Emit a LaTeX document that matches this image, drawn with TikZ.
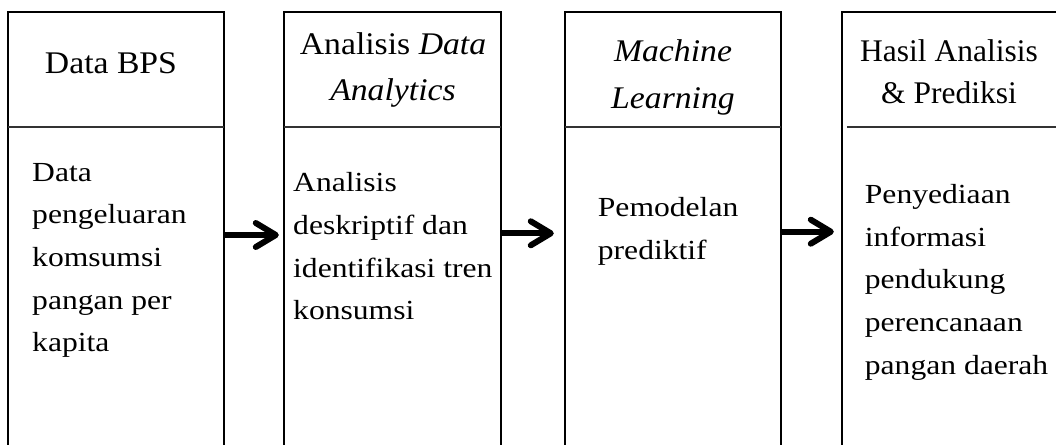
\documentclass[tikz,border=0pt]{standalone}
\usepackage{fontspec}
\setmainfont{Liberation Serif}
\newfontfamily\bodyfont[FakeStretch=1.145]{Liberation Serif}
\newfontfamily\headfont[FakeStretch=1.07]{Liberation Serif}
\usetikzlibrary{arrows.meta}
\begin{document}
\begin{tikzpicture}[x=1pt,y=-1pt,
  boxshape/.style={rectangle,draw=none,inner sep=0pt,minimum width=216pt,minimum height=446pt},
  boxline/.style={line width=2pt,black},
  divline/.style={line width=1.2pt,black!80},
  bodytext/.style={anchor=base west,inner sep=0pt,align=left,font=\bodyfont\fontsize{27.6}{42.7}\selectfont},
  headtext/.style={anchor=base,inner sep=0pt,align=center,font=\headfont\fontsize{31.5}{46.3}\selectfont},
  arr/.style={line width=6pt,-{Straight Barb[length=20pt,width=24pt,round]}}]
\useasboundingbox (0,0) rectangle (1056,444);
\fill[white] (0,0) rectangle (1056,444);
% boxes
\node[boxshape] (b1) at (116,235) {};
\node[boxshape,minimum width=216.5pt] (b2) at (392.25,235) {};
\node[boxshape] (b3) at (673,235) {};
\node[boxshape] (b4) at (950,235) {};
\foreach \b in {b1,b2,b3,b4}{
  \draw[boxline] (\b.south west) -- (\b.north west) -- (\b.north east) -- (\b.south east);
}
\draw[divline] (b1.west |- 0,127) -- (b1.east |- 0,127);
\draw[divline] (b2.west |- 0,127) -- (b2.east |- 0,127);
\draw[divline] (b3.west |- 0,127) -- (b3.east |- 0,127);
\draw[divline] ([xshift=5pt]b4.west |- 0,127) -- (b4.east |- 0,127);
% headers (anchor = baseline of last line)
\node[headtext] (h1) at (111,74) {Data BPS};
\node[headtext] (h2) at (393,100.6) {Analisis \textit{Data}\\\textit{Analytics}};
\node[headtext] (h3) at (673,108) {\textit{Machine}\\\textit{Learning}};
\node[headtext,font=\fontsize{31.5}{42}\selectfont] (h4) at (949,103) {Hasil Analisis\\\& Prediksi};
% bodies (anchor = baseline of last line)
\node[bodytext] (t1) at (32,351.8) {Data\\pengeluaran\\komsumsi\\pangan per\\kapita};
\node[bodytext] (t2) at (293,319.8) {Analisis\\deskriptif dan\\identifikasi tren\\konsumsi};
\node[bodytext] (t3) at (597.7,259.4) {Pemodelan\\prediktif};
\node[bodytext] (t4) at (864.7,374.1) {Penyediaan\\informasi\\pendukung\\perencanaan\\pangan daerah};
% arrows
\draw[arr] ([xshift=1pt]b1.east) -- ([xshift=-5pt]b2.west);
\draw[arr] ([xshift=1pt,yshift=1.7pt]b2.east) -- ([xshift=-11pt,yshift=1.7pt]b3.west);
\draw[arr] ([xshift=1pt,yshift=3.3pt]b3.east) -- ([xshift=-8pt,yshift=3.3pt]b4.west);
\end{tikzpicture}
\end{document}
